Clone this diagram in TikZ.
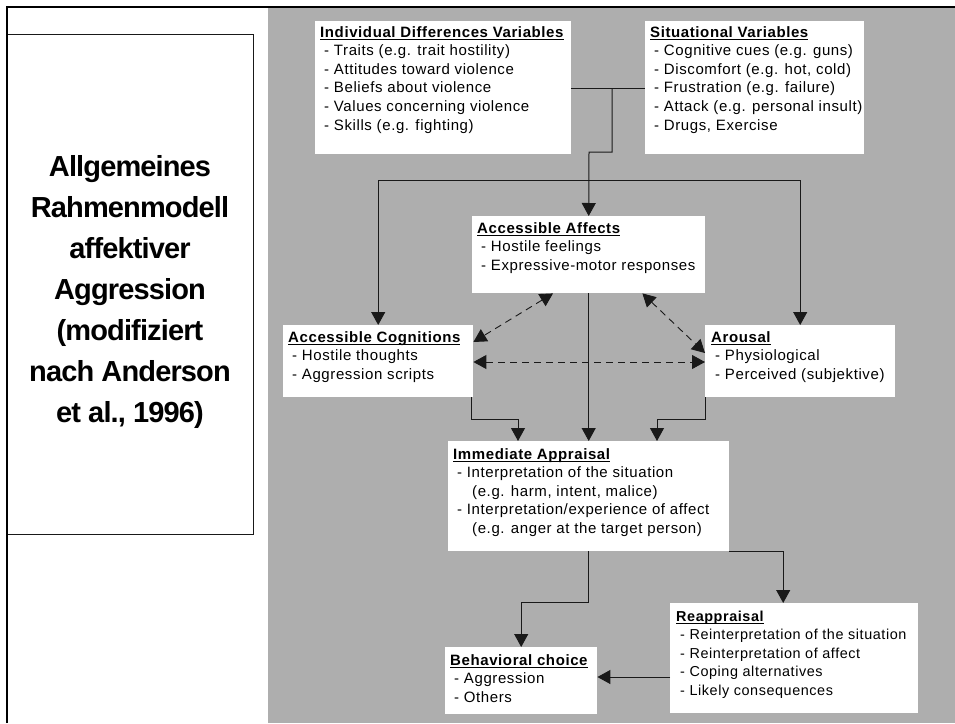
\documentclass[tikz,border=0pt]{standalone}
\usepackage{fontspec}
\setmainfont{Liberation Sans}
\newfontfamily\boxfont[LetterSpace=4]{Liberation Sans}
\newfontfamily\headfont[LetterSpace=-3]{Liberation Sans}
\usetikzlibrary{arrows.meta}
\definecolor{bg}{RGB}{174,174,174}
\definecolor{ln}{RGB}{25,25,25}
\newcommand\ttl[1]{\setbox0\hbox{\bfseries #1}\rlap{\rule[-2.8pt]{\wd0}{1.2pt}}\box0}
\newcommand\itm{\hspace*{4pt}- }
\newcommand\btext[2]{\begin{tabular}[t]{@{}l@{}}\ttl{#1}\\#2\end{tabular}}
\tikzset{
  wbox/.style={fill=white, draw=none, inner sep=0pt, anchor=north west},
  txt/.style={anchor=base west, inner sep=0pt, font=\boxfont\fontsize{15pt}{18.6pt}\selectfont},
  arr/.style={draw=ln, line width=1pt, -{Triangle[width=14pt,length=13pt]}},
  plain/.style={draw=ln, line width=1pt},
  darr/.style={draw=ln, line width=0.9pt, dash pattern=on 7pt off 5pt,
     {Triangle[width=14pt,length=13pt]}-{Triangle[width=14pt,length=13pt]}},
}
\begin{document}
\begin{tikzpicture}[x=1pt,y=-1pt]
\useasboundingbox (0,0) rectangle (955,723);
\fill[white] (0,0) rectangle (955,723);
\fill[bg] (268,8) rectangle (955,723);
% left panel
\node[draw=ln, line width=0.8pt, minimum width=246pt, minimum height=500pt, anchor=north west, inner sep=0pt] (panel) at (7,34) {};
\node[font=\headfont\bfseries\fontsize{29pt}{41pt}\selectfont, align=center, inner sep=0pt] (title) at (130,292)
 {Allgemeines\\Rahmenmodell\\affektiver\\Aggression\\(modifiziert\\nach Anderson\\et al., 1996)};
\draw[line width=2pt, draw=black] (7,723) -- (7,7) -- (955,7);
% boxes
\node[wbox, minimum width=256pt, minimum height=133pt] (idv) at (315,21) {};
\node[wbox, minimum width=219pt, minimum height=133pt] (sv) at (645,21) {};
\node[wbox, minimum width=233pt, minimum height=77pt] (aff) at (472,216) {};
\node[wbox, minimum width=190pt, minimum height=72pt] (cog) at (283,325) {};
\node[wbox, minimum width=190pt, minimum height=72pt] (aro) at (705,325) {};
\node[wbox, minimum width=281pt, minimum height=110pt] (app) at (448,441) {};
\node[wbox, minimum width=152pt, minimum height=67pt] (beh) at (445,647) {};
\node[wbox, minimum width=248pt, minimum height=110pt] (rea) at (670,603) {};
% texts
\node[txt] (idvt) at (320,37) {\btext{Individual Differences Variables}{\itm Traits (e.g. trait hostility)\\\itm Attitudes toward violence\\\itm Beliefs about violence\\\itm Values concerning violence\\\itm Skills (e.g. fighting)}};
\node[txt] (svt) at (650,37) {\btext{Situational Variables}{\itm Cognitive cues (e.g. guns)\\\itm Discomfort (e.g. hot, cold)\\\itm Frustration (e.g. failure)\\\itm Attack (e.g. personal insult)\\\itm Drugs, Exercise}};
\node[txt] (afft) at (477,233) {\btext{Accessible Affects}{\itm Hostile feelings\\\itm Expressive-motor responses}};
\node[txt] (cogt) at (288,342) {\btext{Accessible Cognitions}{\itm Hostile thoughts\\\itm Aggression scripts}};
\node[txt] (arot) at (711,342) {\btext{Arousal}{\itm Physiological\\\itm Perceived (subjektive)}};
\node[txt] (appt) at (453,459) {\btext{Immediate Appraisal}{\itm Interpretation of the situation\\\hspace*{19pt}(e.g. harm, intent, malice)\\\itm Interpretation/experience of affect\\\hspace*{19pt}(e.g. anger at the target person)}};
\node[txt] (beht) at (450,665) {\btext{Behavioral choice}{\itm Aggression\\\itm Others}};
\node[txt, font=\boxfont\fontsize{14.4pt}{18.6pt}\selectfont] (reat) at (676,621) {\btext{Reappraisal}{\itm Reinterpretation of the situation\\\itm Reinterpretation of affect\\\itm Coping alternatives\\\itm Likely consequences}};
% connectors
\coordinate (j1) at (612,88);
\coordinate (j2) at (589,152);
\coordinate (hl) at (589,180);
\coordinate (c1) at (518,419);
\coordinate (c2) at (657,419);
\coordinate (c5) at (0,677);
\draw[plain] (idv.east |- j1) -- (sv.west |- j1);
\draw[arr] (j1) |- (j2) -- (aff.north);
\draw[plain] (cog.north |- hl) -- (aro.north |- hl);
\draw[arr] (cog.north |- hl) -- (cog.north);
\draw[arr] (aro.north |- hl) -- (aro.north);
\draw[arr] (aff.south) -- (app.north);
\draw[arr] ([xshift=-2pt]cog.south east) |- (c1) -- (c1 |- app.north);
\draw[arr] (aro.south west) |- (c2) -- (c2 |- app.north);
\draw[arr] (app.south) -- ++(0,51) -| (beh.north);
\draw[arr] (app.south east) -| ([xshift=-11pt]rea.north);
\draw[arr] (rea.west |- c5) -- (beh.east |- c5);
\draw[darr] ([xshift=81pt]aff.south west) -- ([yshift=-17pt]cog.north east);
\draw[darr] ([xshift=-63pt]aff.south east) -- ([yshift=-28pt]aro.north west);
\draw[darr] ([yshift=-37pt]cog.north east) -- ([yshift=-37pt]aro.north west);
\end{tikzpicture}
\end{document}
